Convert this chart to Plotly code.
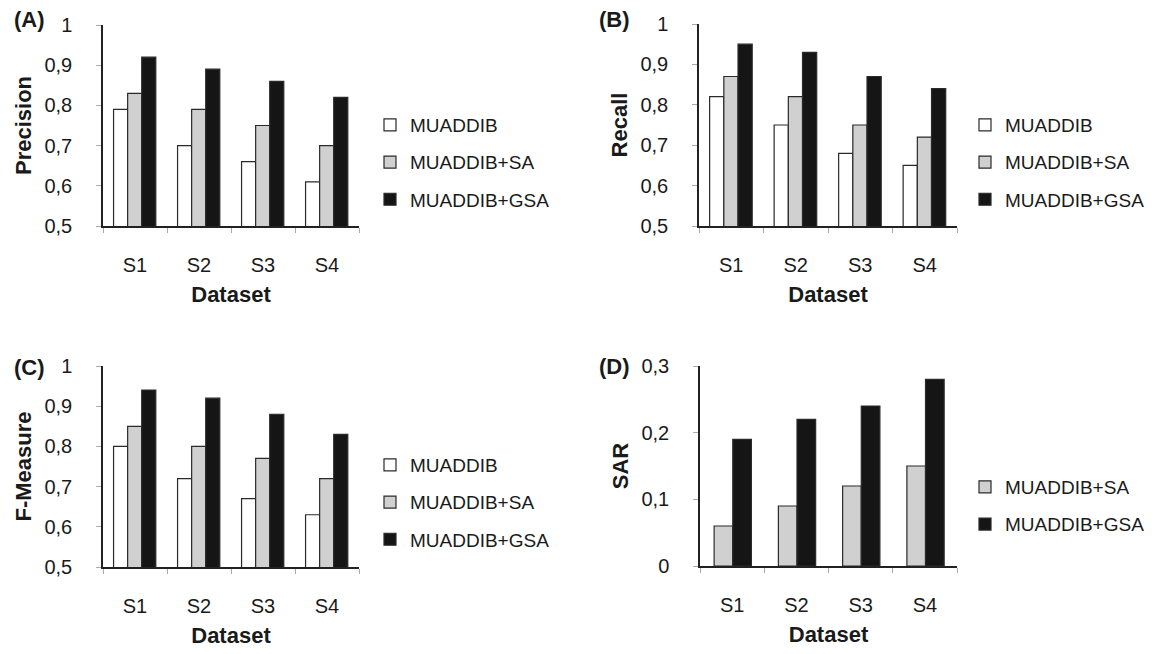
import plotly.graph_objects as go

categories = ["S1", "S2", "S3", "S4"]
series_names = ["MUADDIB", "MUADDIB+SA", "MUADDIB+GSA"]

precision_muaddib = [0.79, 0.70, 0.66, 0.61]
precision_sa = [0.83, 0.79, 0.75, 0.70]
precision_gsa = [0.92, 0.89, 0.86, 0.82]

recall_muaddib = [0.82, 0.75, 0.68, 0.65]
recall_sa = [0.87, 0.82, 0.75, 0.72]
recall_gsa = [0.95, 0.93, 0.87, 0.84]

fmeasure_muaddib = [0.80, 0.72, 0.67, 0.63]
fmeasure_sa = [0.85, 0.80, 0.77, 0.72]
fmeasure_gsa = [0.94, 0.92, 0.88, 0.83]

sar_sa = [0.06, 0.09, 0.12, 0.15]
sar_gsa = [0.19, 0.22, 0.24, 0.28]

FONT = "Liberation Sans, Arial, sans-serif"
TXT = "#1a1a1a"
fills = {"MUADDIB": "#ffffff", "MUADDIB+SA": "#d0d0d0", "MUADDIB+GSA": "#151515"}
W, H = 1174, 654

fig = go.Figure()

panels = [
    (1, [precision_muaddib, precision_sa, precision_gsa], series_names, "Precision", [0.5, 1]),
    (2, [recall_muaddib, recall_sa, recall_gsa], series_names, "Recall", [0.5, 1]),
    (3, [fmeasure_muaddib, fmeasure_sa, fmeasure_gsa], series_names, "F-Measure", [0.5, 1]),
    (4, [sar_sa, sar_gsa], series_names[1:], "SAR", [0, 0.3]),
]

boxes = {1: (103, 359, 25, 226), 2: (699, 957, 24, 226),
         3: (103, 359, 366, 567), 4: (700, 957, 366, 566)}

for idx, data, names, ytitle, yr in panels:
    xa = "x" if idx == 1 else f"x{idx}"
    ya = "y" if idx == 1 else f"y{idx}"
    lg = "legend" if idx == 1 else f"legend{idx}"
    n = len(data)
    if n == 3:
        width = 0.22
        offsets = [-0.335, -0.115, 0.105]
    else:
        width = 0.29
        offsets = [-0.28, 0.01]
    for k, (vals, name) in enumerate(zip(data, names)):
        fig.add_trace(go.Bar(
            x=categories, y=vals, name=name, xaxis=xa, yaxis=ya,
            width=width, offset=offsets[k],
            marker=dict(color=fills[name], line=dict(color="#2a2a2a", width=1.2)),
            legend=lg, legendgroup=f"{idx}-{name}", showlegend=True,
        ))

layout = dict(
    width=W, height=H, margin=dict(l=0, r=0, t=0, b=0, autoexpand=False),
    paper_bgcolor="white", plot_bgcolor="white",
    separators=", ", barmode="overlay", showlegend=True,
    font=dict(family=FONT, color=TXT, size=20),
)

for idx, data, names, ytitle, yr in panels:
    l, r, t, b = boxes[idx]
    xkey = "xaxis" if idx == 1 else f"xaxis{idx}"
    ykey = "yaxis" if idx == 1 else f"yaxis{idx}"
    xa = "x" if idx == 1 else f"x{idx}"
    ya = "y" if idx == 1 else f"y{idx}"
    layout[xkey] = dict(
        domain=[l / W, r / W], anchor=ya, type="category",
        showline=True, linecolor="#222", linewidth=1.5,
        ticks="outside", tickson="boundaries", ticklen=5, tickcolor="#aaa", tickwidth=1,
        showgrid=False, zeroline=False, fixedrange=True, automargin=False,
        tickfont=dict(family=FONT, size=20, color=TXT), ticklabelstandoff=20,
        title=dict(text="<b>Dataset</b>", font=dict(family=FONT, size=22, color=TXT), standoff=12),
    )
    layout[ykey] = dict(
        domain=[1 - b / H, 1 - t / H], anchor=xa, range=yr, dtick=0.1,
        showline=True, linecolor="#222", linewidth=1.5,
        ticks="outside", ticklen=5, tickcolor="#aaa", tickwidth=1,
        showgrid=False, zeroline=False, fixedrange=True, automargin=False,
        tickfont=dict(family=FONT, size=20, color=TXT), ticklabelstandoff=20,
        title=dict(text=f"<b>{ytitle}</b>", font=dict(family=FONT, size=22, color=TXT), standoff=7),
    )

legend_pos = {1: (370, 106), 2: (965, 106), 3: (370, 446), 4: (965, 468)}
for idx, (lx, ly) in legend_pos.items():
    key = "legend" if idx == 1 else f"legend{idx}"
    layout[key] = dict(
        x=lx / W, y=1 - ly / H, xanchor="left", yanchor="top",
        font=dict(family=FONT, size=19, color=TXT),
        traceorder="grouped", tracegroupgap=9.5,
        bgcolor="rgba(0,0,0,0)", borderwidth=0, itemclick=False, itemdoubleclick=False,
    )

labels = [("(A)", 12, 20), ("(B)", 597, 20), ("(C)", 12, 367), ("(D)", 597, 366)]
annotations = []
for txt, px, py in labels:
    annotations.append(dict(
        text=f"<b>{txt}</b>", x=px / W, y=1 - py / H, xref="paper", yref="paper",
        xanchor="left", yanchor="middle", showarrow=False,
        font=dict(family=FONT, size=22, color=TXT),
    ))
layout["annotations"] = annotations

fig.update_layout(**layout)
fig.write_html("out.html", config={"displayModeBar": False},
               post_script="document.body.style.margin='0';")
